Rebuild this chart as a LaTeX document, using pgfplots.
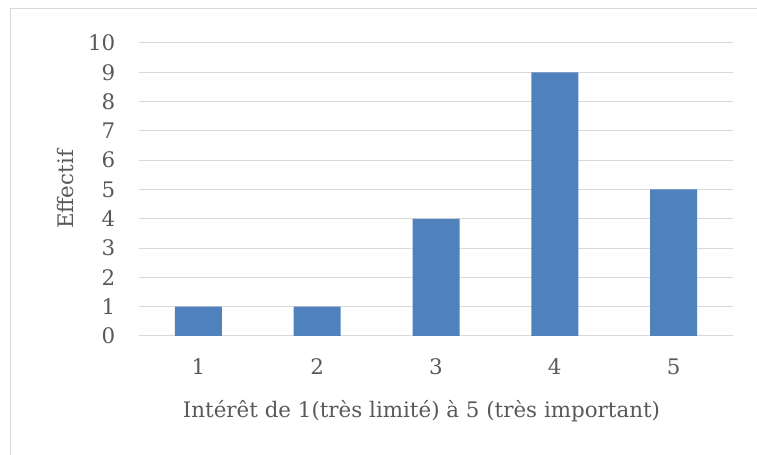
\documentclass[border=0pt]{standalone}
\usepackage{pgfplots}
\pgfplotsset{compat=1.18}
\usepackage{fontspec}
\setmainfont{DejaVu Serif}
\definecolor{barblue}{HTML}{4F81BD}
\definecolor{gridgray}{HTML}{D9D9D9}
\definecolor{txt}{HTML}{595959}
\newcommand\f{\fontsize{21.4bp}{26bp}\selectfont}
\begin{document}
\begin{tikzpicture}
\useasboundingbox (0,0) rectangle (757bp,455bp);
\draw[gridgray, line width=1bp] (10.5bp,-20bp) -- (10.5bp,446.5bp) -- (780bp,446.5bp);
\begin{axis}[
  at={(139bp,119bp)}, anchor=south west,
  scale only axis, width=594bp, height=293bp,
  xmin=0.5, xmax=5.5, ymin=0, ymax=10,
  xtick={1,2,3,4,5}, ytick={0,1,...,10},
  ybar, bar width=47bp,
  axis line style={draw=none},
  major tick length=0pt,
  ymajorgrids, grid style={gridgray, line width=1bp},
  /pgf/number format/assume math mode=true,
  ticklabel style={font=\f, text=txt, inner sep=0pt},
  xticklabel style={anchor=base, yshift=-39bp},
  yticklabel style={anchor=east, xshift=-23.5bp},
  label style={font=\f, text=txt, inner sep=0pt},
  xlabel={Intérêt de 1(très limité) à 5 (très important)},
  ylabel={Effectif},
  xlabel style={at={(axis description cs:0.4756,-0.2765)}, anchor=base},
  ylabel style={at={(axis description cs:-0.1111,0.5)}, anchor=base},
]
\addplot[fill=barblue, draw=none] coordinates {(1,1) (2,1) (3,4) (4,9) (5,5)};
\end{axis}
\end{tikzpicture}
\end{document}
